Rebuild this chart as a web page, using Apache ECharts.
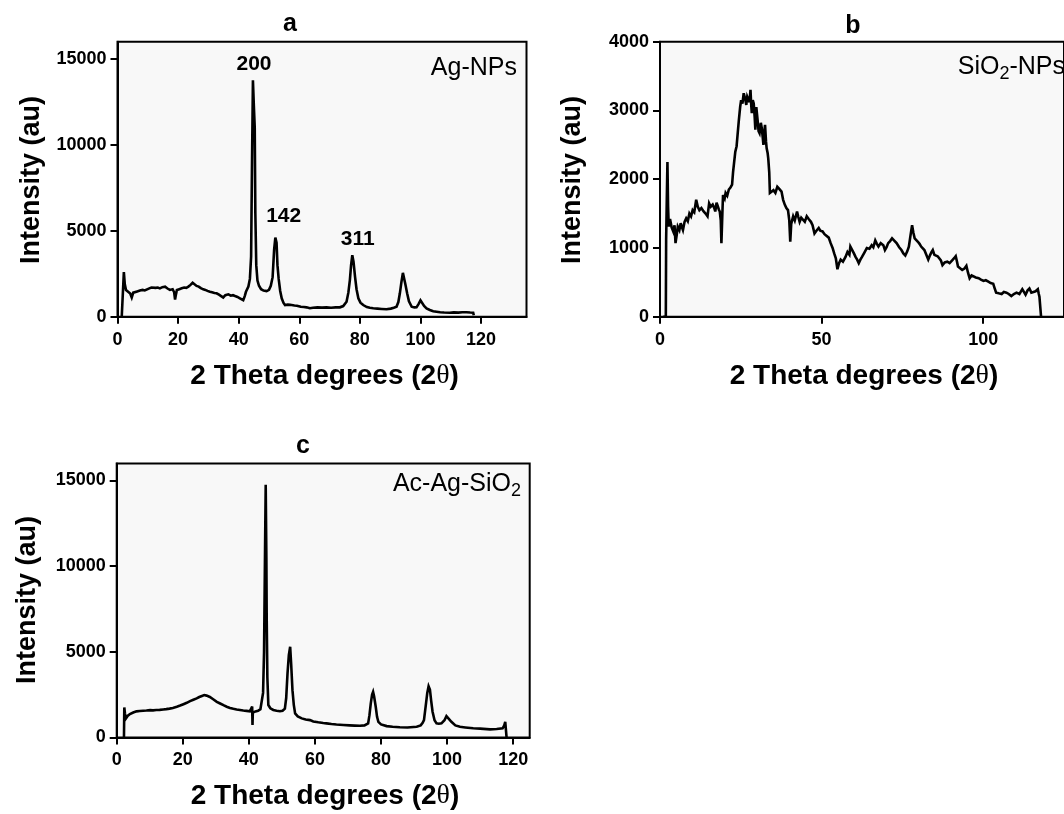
<!DOCTYPE html>
<html>
<head>
<meta charset="utf-8">
<script src="https://cdn.jsdelivr.net/npm/echarts@6/dist/echarts.min.js"></script>
<style>
  html, body { margin: 0; padding: 0; background: #ffffff; }
  #chart { width: 1064px; height: 814px; }
</style>
</head>
<body>
<div id="chart"></div>
<script>
// ---- XRD pattern: Ag nanoparticles (panel a) ----
const agTheta = [1.4, 1.9, 2.1, 2.4, 2.8, 3.5, 4.2, 4.7, 5.2, 5.8, 6.5, 7.4, 8.3, 9.0, 9.6, 10.5, 11.2, 11.8, 12.6, 13.3,
  14.0, 14.8, 15.7, 16.5, 17.3, 18.2, 18.7, 19.0, 19.3, 19.6, 20.4, 21.2, 22.0, 22.7, 23.4, 24.1, 24.8, 25.4, 26.1, 26.8,
  27.5, 28.3, 29.0, 29.7, 30.5, 31.2, 32.0, 32.7, 33.5, 34.2, 34.9, 35.6, 36.6, 37.4, 38.1, 38.8, 39.6, 40.4, 41.0, 41.5,
  42.0, 42.4, 43.2, 43.7, 44.1, 44.4, 44.7, 45.0, 45.3, 45.5, 45.8, 46.2, 46.7, 47.4, 48.2, 49.2, 50.0, 50.6, 51.2, 51.7,
  52.1, 52.5, 52.8, 53.2, 53.7, 54.2, 54.8, 55.3, 56.2, 57.0, 57.5, 58.4, 59.2, 59.7, 60.5, 61.5, 62.4, 63.5, 64.5, 66.0,
  67.5, 69.0, 70.5, 72.0, 73.4, 74.5, 75.6, 76.2, 76.7, 77.1, 77.5, 77.9, 78.4, 78.9, 79.5, 80.2, 81.1, 82.3, 83.3, 84.4,
  85.8, 87.2, 88.8, 90.2, 91.2, 92.1, 92.7, 93.2, 93.7, 94.2, 94.6, 95.0, 95.6, 96.2, 97.1, 98.0, 98.7, 99.4, 100.0, 100.5,
  101.2, 102.0, 103.1, 104.2, 105.3, 106.5, 107.8, 109.7, 111.0, 112.5, 113.8, 115.2, 116.4, 117.4, 117.6];
const agIntensity = [0, 40, 2600, 1900, 1550, 1450, 1350, 1120, 1400, 1510, 1470, 1520, 1560, 1530, 1610, 1650, 1700, 1745, 1680, 1700,
  1650, 1720, 1745, 1640, 1560, 1600, 1420, 1000, 1300, 1550, 1600, 1650, 1700, 1680, 1750, 1850, 1975, 1880, 1790, 1750,
  1660, 1590, 1560, 1500, 1450, 1420, 1380, 1360, 1280, 1200, 1120, 1250, 1300, 1220, 1250, 1200, 1150, 1070, 1020, 960,
  1200, 1450, 1750, 2200, 3500, 9000, 13750, 12300, 11000, 6000, 3000, 2100, 1800, 1600, 1520, 1490, 1560, 1800, 2300, 3900,
  4600, 4300, 3000, 2200, 1500, 1070, 800, 680, 700, 690, 680, 650, 640, 620, 580, 560, 545, 490, 520, 540,
  530, 545, 520, 540, 545, 620, 870, 1400, 2130, 3000, 3580, 3200, 2330, 1600, 1070, 820, 680, 560, 520, 490,
  470, 450, 430, 470, 520, 580, 850, 1360, 2000, 2550, 2450, 1900, 1360, 900, 580, 540, 545, 750, 950, 880,
  620, 480, 390, 320, 290, 260, 240, 230, 250, 240, 260, 260, 240, 230, 80];

// ---- XRD pattern: SiO2 nanoparticles (panel b) ----
const siTheta = [1.0, 1.8, 1.9, 2.1, 2.3, 2.5, 2.7, 3.1, 3.6, 4.1, 4.5, 4.8, 5.2, 5.5, 6.0, 6.4, 6.8, 7.1, 7.6, 8.1,
  8.6, 9.1, 9.6, 10.1, 10.6, 11.2, 11.7, 12.2, 12.8, 13.5, 14.1, 14.7, 15.2, 15.7, 16.3, 16.8, 17.1, 17.5, 17.8, 18.2,
  18.5, 18.8, 19.0, 19.3, 19.5, 20.0, 20.3, 20.8, 21.3, 21.8, 22.3, 22.6, 22.9, 23.3, 23.7, 24.1, 24.4, 24.8, 25.1, 25.5,
  25.9, 26.3, 26.7, 27.0, 27.4, 27.7, 28.0, 28.2, 28.4, 28.7, 29.0, 29.3, 29.5, 29.8, 30.2, 30.5, 30.8, 31.2, 31.5, 31.8,
  32.0, 32.3, 32.5, 32.8, 33.0, 33.3, 33.5, 33.8, 34.0, 34.5, 35.1, 35.7, 36.3, 36.9, 37.6, 38.1, 38.6, 39.1, 39.6, 40.0,
  40.3, 40.6, 41.2, 41.7, 42.4, 42.8, 43.2, 43.7, 44.2, 44.8, 45.4, 46.0, 46.7, 47.2, 47.8, 48.4, 49.1, 49.6, 50.3, 50.9,
  51.5, 52.2, 52.8, 53.4, 53.9, 54.4, 54.9, 55.4, 55.9, 56.6, 57.4, 58.0, 58.6, 58.9, 59.5, 60.0, 60.5, 61.0, 61.5, 62.0,
  62.5, 63.2, 64.0, 64.8, 65.5, 66.0, 66.6, 67.1, 67.6, 68.3, 69.1, 69.6, 70.1, 70.6, 71.2, 71.8, 72.4, 73.2, 74.0, 74.7,
  75.3, 75.9, 76.5, 77.0, 77.5, 78.0, 78.4, 78.8, 79.3, 79.8, 80.3, 80.8, 81.3, 81.8, 82.4, 83.0, 83.6, 84.0, 84.4, 84.9,
  85.4, 85.9, 86.4, 86.9, 87.4, 88.1, 88.9, 89.6, 90.4, 91.0, 91.5, 91.9, 92.2, 92.8, 93.5, 94.2, 94.8, 95.3, 95.8, 96.4,
  97.0, 97.7, 98.6, 99.3, 100.1, 100.8, 101.6, 102.3, 103.1, 103.5, 104.0, 104.8, 105.7, 106.4, 107.2, 107.9, 108.7, 109.5, 110.3, 111.2,
  112.1, 112.6, 113.1, 113.7, 114.3, 114.9, 115.5, 116.2, 116.9, 117.2, 117.4, 117.9];
const siIntensity = [0, 0, 1120, 1700, 2250, 1600, 1310, 1420, 1300, 1240, 1330, 1070, 1200, 1310, 1260, 1360, 1300, 1260, 1380, 1430,
  1390, 1500, 1460, 1550, 1520, 1700, 1600, 1550, 1580, 1530, 1500, 1460, 1650, 1600, 1630, 1580, 1530, 1660, 1620, 1560,
  1530, 1400, 1070, 1500, 1770, 1720, 1800, 1760, 1850, 1880, 1920, 2100, 2230, 2400, 2480, 2700, 2860, 3050, 3150, 3100,
  3250, 3180, 3080, 3200, 3200, 3120, 3300, 3100, 2960, 3150, 3100, 2900, 2720, 3050, 2860, 2700, 2670, 2820, 2740, 2600,
  2500, 2700, 2790, 2550, 2450, 2380, 2300, 2100, 1800, 1780, 1840, 1800, 1890, 1860, 1820, 1700, 1630, 1580, 1550, 1400,
  1090, 1350, 1460, 1400, 1530, 1450, 1380, 1440, 1430, 1380, 1460, 1420, 1380, 1330, 1210, 1250, 1290, 1250, 1240, 1200,
  1210, 1150, 1070, 1000, 920, 850, 690, 780, 830, 800, 870, 940, 900, 1020, 1040, 920, 870, 830, 780, 830,
  870, 930, 1000, 990, 1040, 1010, 1110, 1060, 1020, 1070, 1040, 970, 1010, 1070, 1100, 1140, 1110, 1070, 1010, 970,
  920, 890, 950, 1020, 1180, 1330, 1220, 1140, 1150, 1090, 1060, 1020, 1000, 970, 900, 830, 900, 940, 970, 900,
  920, 880, 850, 820, 750, 790, 800, 780, 820, 850, 880, 800, 730, 720, 680, 700, 740, 640, 560, 600,
  590, 570, 560, 540, 520, 530, 510, 490, 480, 420, 350, 340, 330, 360, 350, 330, 300, 330, 350, 330,
  400, 360, 320, 380, 410, 350, 330, 370, 400, 330, 290, 0];

// ---- XRD pattern: Ac-Ag-SiO2 composite (panel c) ----
const compTheta = [2.2, 2.3, 2.5, 2.8, 3.3, 4.0, 5.0, 6.0, 7.0, 8.0, 9.0, 10.1, 11.0, 12.0, 13.0, 14.1, 15.0, 16.0, 17.0, 18.2,
  19.2, 20.2, 21.2, 22.2, 23.2, 24.2, 25.0, 25.8, 26.5, 27.2, 28.2, 29.2, 30.3, 31.3, 32.3, 33.3, 34.3, 35.3, 36.3, 37.3,
  38.3, 39.3, 40.3, 40.9, 41.0, 41.1, 41.2, 42.0, 42.8, 43.5, 43.9, 44.3, 44.6, 44.9, 45.1, 45.3, 45.4, 45.6, 45.9, 46.5,
  47.4, 48.4, 49.4, 50.2, 50.9, 51.3, 51.7, 52.1, 52.5, 52.8, 53.2, 53.6, 54.0, 54.8, 56.0, 57.2, 58.5, 59.5, 61.0, 62.5,
  63.5, 65.0, 66.5, 68.6, 70.5, 72.0, 73.6, 75.0, 75.6, 76.1, 76.5, 76.9, 77.3, 77.6, 77.9, 78.4, 78.8, 79.2, 80.0, 81.7,
  83.5, 85.7, 88.0, 90.8, 92.0, 92.6, 93.0, 93.5, 94.0, 94.4, 94.8, 95.2, 95.6, 96.2, 96.8, 97.5, 98.3, 99.2, 99.8, 100.4,
  101.3, 102.5, 103.9, 105.5, 107.9, 110.0, 113.0, 115.0, 116.8, 117.3, 117.6, 117.8, 118.0];
const compIntensity = [0, 1750, 1400, 1110, 1250, 1360, 1450, 1520, 1540, 1560, 1570, 1590, 1580, 1600, 1610, 1630, 1650, 1680, 1720, 1790,
  1860, 1940, 2020, 2120, 2200, 2280, 2360, 2420, 2470, 2440, 2360, 2230, 2080, 1980, 1880, 1790, 1720, 1670, 1630, 1600,
  1570, 1550, 1520, 1500, 1800, 720, 1450, 1520, 1560, 1640, 1700, 2600, 5000, 11000, 14750, 10500, 7000, 3500, 1890, 1700,
  1600, 1560, 1530, 1560, 1680, 2300, 3740, 4800, 5290, 4300, 2760, 1900, 1400, 1230, 1110, 1050, 1010, 930, 880, 840,
  820, 780, 750, 720, 700, 690, 680, 700, 760, 820, 1300, 1990, 2500, 2660, 2400, 1790, 1200, 910, 760, 660,
  620, 590, 580, 620, 700, 850, 1010, 1800, 2600, 2990, 2800, 2100, 1500, 1000, 820, 800, 820, 1000, 1240, 1150,
  910, 700, 620, 580, 530, 510, 470, 490, 530, 700, 910, 850, 0];

// ---- Axis ticks ----
const xTicksA = [0, 20, 40, 60, 80, 100, 120];
const xTicksB = [0, 50, 100];
const xTicksC = [0, 20, 40, 60, 80, 100, 120];
const yTicksAC = [0, 5000, 10000, 15000];
const yTicksB = [0, 1000, 2000, 3000, 4000];

const FONT = '"Liberation Sans", Arial, Helvetica, sans-serif';

function pairs(xs, ys) {
  return xs.map((x, i) => [x, ys[i]]);
}

// plain integers, no thousands separator
const plain = (v) => String(Math.round(v));

function xAxis(gridIndex, max, ticks) {
  return {
    type: 'value', gridIndex, min: 0, max,
    axisLine: { show: true, onZero: false, lineStyle: { color: '#000', width: 2 } },
    axisTick: { show: true, inside: false, length: 7, customValues: ticks, lineStyle: { color: '#000', width: 2 } },
    axisLabel: { customValues: ticks, formatter: plain, margin: 14, color: '#000', fontFamily: FONT, fontWeight: 'bold', fontSize: 18 },
    splitLine: { show: false }
  };
}

function yAxis(gridIndex, max, ticks) {
  return {
    type: 'value', gridIndex, min: 0, max,
    axisLine: { show: true, onZero: false, lineStyle: { color: '#000', width: 2 } },
    axisTick: { show: true, inside: false, length: 7, customValues: ticks, lineStyle: { color: '#000', width: 2 } },
    axisLabel: { customValues: ticks, formatter: plain, margin: 11, color: '#000', fontFamily: FONT, fontWeight: 'bold', fontSize: 18 },
    splitLine: { show: false }
  };
}

function grid(left, top, width, height) {
  return { left, top, width, height, show: true, backgroundColor: '#f8f8f8', borderColor: '#000', borderWidth: 2 };
}

function curve(index, xs, ys) {
  return {
    type: 'line', xAxisIndex: index, yAxisIndex: index,
    data: pairs(xs, ys), showSymbol: false, symbol: 'none',
    lineStyle: { color: '#000', width: 2.6, join: 'miter', miterLimit: 4 }, silent: true
  };
}

function label(x, y, text, size, weight, align, extra) {
  return Object.assign({
    type: 'text', x, y, silent: true,
    style: {
      text, fill: '#000', fontFamily: FONT, fontSize: size, fontWeight: weight,
      align, textAlign: align, verticalAlign: 'middle', textVerticalAlign: 'middle'
    }
  }, extra || {});
}

function richLabel(x, y, parts) {
  return {
    type: 'text', x, y, silent: true,
    style: {
      text: parts, fill: '#000', fontFamily: FONT, fontSize: 25, lineHeight: 32,
      align: 'right', textAlign: 'right', verticalAlign: 'middle', textVerticalAlign: 'middle',
      rich: { sub: { fontFamily: FONT, fontSize: 18, lineHeight: 18, verticalAlign: 'bottom', fill: '#000' } }
    }
  };
}

function thetaName(x, y) {
  return {
    type: 'text', x, y, silent: true,
    style: {
      text: '2 Theta degrees (2{t|θ})', fill: '#000', fontFamily: FONT, fontSize: 28, fontWeight: 'bold',
      align: 'center', textAlign: 'center', verticalAlign: 'middle', textVerticalAlign: 'middle',
      rich: { t: { fontFamily: '"Liberation Serif", "DejaVu Serif", serif', fontSize: 28, fontWeight: 'normal', fill: '#000' } }
    }
  };
}

const chart = echarts.init(document.getElementById('chart'), null, { renderer: 'canvas' });

chart.setOption({
  animation: false,
  backgroundColor: '#ffffff',
  grid: [
    grid(117.5, 41.7, 409, 275),
    grid(660, 41.7, 410, 275),
    grid(116.7, 463.4, 413, 274)
  ],
  xAxis: [
    xAxis(0, 135, xTicksA),
    xAxis(1, 125, xTicksB),
    xAxis(2, 125, xTicksC)
  ],
  yAxis: [
    yAxis(0, 16000, yTicksAC),
    yAxis(1, 4000, yTicksB),
    yAxis(2, 16000, yTicksAC)
  ],
  series: [
    curve(0, agTheta, agIntensity),
    curve(1, siTheta, siIntensity),
    curve(2, compTheta, compIntensity)
  ],
  graphic: [
    // panel letters
    label(290, 24.5, 'a', 25, 'bold', 'center'),
    label(853, 26.5, 'b', 25, 'bold', 'center'),
    label(303, 446, 'c', 25, 'bold', 'center'),
    // vertical axis names
    label(32, 180, 'Intensity (au)', 27, 'bold', 'center', { rotation: Math.PI / 2 }),
    label(572.5, 180, 'Intensity (au)', 27, 'bold', 'center', { rotation: Math.PI / 2 }),
    label(28, 600, 'Intensity (au)', 27, 'bold', 'center', { rotation: Math.PI / 2 }),
    // horizontal axis names
    thetaName(324.6, 376),
    thetaName(864, 376),
    thetaName(325, 796),
    // sample names
    label(517, 68, 'Ag-NPs', 25, 'normal', 'right'),
    richLabel(1065, 67, 'SiO{sub|2}-NPs'),
    richLabel(521, 484, 'Ac-Ag-SiO{sub|2}'),
    // reflection indices
    label(254, 64, '200', 21, 'bold', 'center'),
    label(283.7, 216, '142', 21, 'bold', 'center'),
    label(357.8, 239, '311', 21, 'bold', 'center')
  ]
});
</script>
</body>
</html>
